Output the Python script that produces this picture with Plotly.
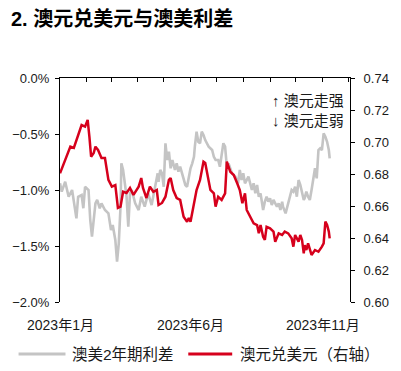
import pandas as pd
import plotly.graph_objects as go

# ---- data ----
title_text = "2. 澳元兑美元与澳美利差"
spread_name = "澳美2年期利差"
aud_name = "澳元兑美元（右轴）"
note_up = "↑ 澳元走强"
note_down = "↓ 澳元走弱"

x_tick_dates = ["2023-01-01", "2023-06-01", "2023-11-01"]
x_tick_labels = ["2023年1月", "2023年6月", "2023年11月"]

# days since 2023-01-01
spread_days = [0, 2, 6, 10, 14, 18, 19, 21, 25, 27, 29, 33, 35, 37, 39, 41, 43, 46, 48, 52,
               56, 59, 61, 64, 66, 68, 70, 71, 73, 75, 77, 79, 81, 83, 87, 91, 94, 98, 102, 106,
               110, 113, 114, 116, 118, 120, 122, 124, 126, 128, 130, 131, 133, 135, 137, 139, 141, 145, 147, 149,
               151, 153, 155, 156, 158, 160, 162, 164, 166, 168, 172, 176, 178, 180, 183, 185, 187, 189, 191, 193,
               195, 197, 199, 203, 206, 208, 210, 212, 214, 218, 222, 224, 226, 228, 230, 232, 233, 235, 237, 239,
               241, 243, 245, 247, 249, 251, 253, 255, 257, 258, 261, 264, 266, 268, 270, 272, 274, 276, 278, 280,
               282, 283, 285, 287, 289, 291, 293, 295, 297, 299, 301, 303, 305, 307, 309, 311, 312]
spread_values = [-0.94, -1.015, -0.926, -1.06, -1.0, -1.238, -1.253, -1.06, -1.045, -1.163, -0.971, -1.0, -1.268, -1.417, -1.268, -1.119, -1.089, -1.163, -1.119, -1.179,
                 -1.208, -1.357, -1.313, -1.446, -1.64, -1.476, -1.149, -0.762, -0.821, -0.971, -1.06, -1.328, -1.03, -1.0, -1.119, -1.179, -1.06, -1.149, -1.03, -1.134,
                 -0.971, -0.851, -0.926, -0.821, -0.851, -0.971, -0.583, -0.732, -0.658, -0.806, -0.732, -0.762, -0.821, -0.762, -0.836, -0.792, -0.851, -0.955, -0.971, -0.881,
                 -0.806, -0.762, -0.703, -0.613, -0.479, -0.569, -0.583, -0.479, -0.509, -0.554, -0.613, -0.643, -0.703, -0.732, -0.732, -0.792, -0.672, -0.583, -0.613, -0.792,
                 -0.762, -0.806, -0.851, -0.881, -0.94, -0.821, -0.911, -0.851, -0.94, -0.881, -1.0, -0.94, -1.03, -0.955, -1.06, -1.03, -1.089, -1.179, -1.104, -1.06,
                 -1.104, -1.074, -1.134, -1.089, -1.119, -1.149, -1.119, -1.179, -1.104, -1.149, -1.208, -1.119, -1.074, -1.0, -1.015, -0.971, -1.06, -0.911, -0.955, -1.015,
                 -1.089, -1.074, -1.015, -1.06, -1.089, -1.0, -0.911, -0.806, -0.896, -0.643, -0.628, -0.643, -0.494, -0.524, -0.569, -0.643, -0.717]

aud_days = [0, 6, 12, 16, 18, 21, 25, 29, 32, 34, 36, 39, 41, 44, 48, 52, 56, 60, 64, 67,
            70, 73, 77, 81, 85, 91, 94, 96, 100, 104, 108, 112, 114, 118, 122, 126, 128, 131, 135, 139,
            143, 147, 149, 151, 154, 158, 162, 166, 168, 171, 174, 178, 180, 183, 187, 191, 193, 197, 201, 205,
            208, 211, 214, 216, 220, 224, 228, 230, 232, 235, 237, 239, 243, 247, 249, 253, 257, 260, 264, 268,
            270, 272, 276, 278, 280, 282, 283, 285, 287, 291, 295, 299, 303, 305, 307, 309, 311, 312]
aud_values = [0.6804, 0.6888, 0.6971, 0.6963, 0.6994, 0.7031, 0.7106, 0.7096, 0.7138, 0.7033, 0.6908, 0.6931, 0.6971, 0.695, 0.690, 0.690, 0.6763, 0.6721, 0.6731, 0.6588,
              0.6596, 0.6689, 0.6681, 0.6713, 0.6669, 0.6721, 0.6775, 0.6713, 0.665, 0.6721, 0.6689, 0.670, 0.6606, 0.6619, 0.6658, 0.6763, 0.6775, 0.670, 0.665, 0.6638,
              0.6533, 0.6502, 0.6525, 0.6502, 0.6596, 0.670, 0.6763, 0.6877, 0.6869, 0.6783, 0.670, 0.6679, 0.6596, 0.6658, 0.6638, 0.6679, 0.6877, 0.6814, 0.6794, 0.6742,
              0.670, 0.6617, 0.6679, 0.6575, 0.6533, 0.6492, 0.6481, 0.6429, 0.6481, 0.6408, 0.6388, 0.647, 0.646, 0.644, 0.6377, 0.6429, 0.6419, 0.644, 0.6429, 0.6398,
              0.6346, 0.6419, 0.6377, 0.6419, 0.6388, 0.6304, 0.6356, 0.6325, 0.6367, 0.6294, 0.6325, 0.6314, 0.6346, 0.6367, 0.6502, 0.6481, 0.644, 0.6398]

start = pd.Timestamp("2023-01-01")
spread_dates = start + pd.to_timedelta(spread_days, unit="D")
aud_dates = start + pd.to_timedelta(aud_days, unit="D")

# ---- styling ----
GREY = "#C4C4C4"
RED = "#D6001C"
FONT = "Liberation Sans, Arial, Noto Sans CJK SC"
TXT = "#1a1a1a"
x_range = ["2023-01-01", "2023-12-02 12:00"]

# page body has an 8px default margin -> figure is drawn 8px smaller, coords shifted by 8
OFF = 8
W, H = 401 - OFF, 371 - OFF
PL, PR, PT, PB = 59.5 - OFF, 350 - OFF, 78 - OFF, 302 - OFF  # plot area in figure px


def px_x(p):
    return (p - OFF - PL) / (PR - PL)


def px_y(p):
    return (PB - (p - OFF)) / (PB - PT)


fig = go.Figure()
fig.add_trace(go.Scatter(x=spread_dates, y=spread_values, name=spread_name, mode="lines",
                         line=dict(color=GREY, width=2.6), xaxis="x", yaxis="y"))
fig.add_trace(go.Scatter(x=aud_dates, y=aud_values, name=aud_name, mode="lines",
                         line=dict(color=RED, width=2.5), xaxis="x", yaxis="y2"))

fig.update_layout(
    width=W, height=H,
    margin=dict(l=PL, r=W - PR, t=PT, b=H - PB, autoexpand=False),
    paper_bgcolor="white", plot_bgcolor="white",
    showlegend=False,
    font=dict(family=FONT, size=13, color=TXT),
    title=dict(text=title_text, x=3 / W, xanchor="left", xref="container",
               y=1 - 4 / H, yanchor="top", yref="container",
               font=dict(family=FONT, size=20, color="#000", weight="bold")),
    xaxis=dict(type="date", range=x_range, side="top",
               dtick="M1", tick0="2023-01-01", ticks="inside", ticklen=4, tickcolor="#000",
               showticklabels=False, showgrid=False, zeroline=False,
               showline=True, linecolor="#000", linewidth=1, automargin=False),
    yaxis=dict(range=[-2.0, 0.0], dtick=0.5, tick0=0, tickformat=".1f", ticksuffix="%",
               ticks="outside", ticklen=4, tickcolor="#000", showline=True, linecolor="#000",
               linewidth=1, showgrid=False, zeroline=False, tickfont=dict(size=13),
               ticklabelstandoff=3, automargin=False),
    yaxis2=dict(range=[0.60, 0.74], dtick=0.02, tick0=0.60, tickformat=".2f",
                overlaying="y", side="right", anchor="x",
                ticks="outside", ticklen=4, tickcolor="#000", showline=True, linecolor="#000",
                linewidth=1, showgrid=False, zeroline=False, tickfont=dict(size=13),
                ticklabelstandoff=6, automargin=False),
)

# x tick labels at bottom
for d, lab in zip(x_tick_dates, x_tick_labels):
    fig.add_annotation(text=lab, xref="x", yref="paper", x=d, y=px_y(325),
                       xanchor="center", yanchor="middle", showarrow=False,
                       font=dict(family=FONT, size=14, color=TXT))

# annotation texts in plot
for txt, ypx in [(note_up, 100), (note_down, 120)]:
    fig.add_annotation(text=txt, xref="paper", yref="paper",
                       x=px_x(346), y=px_y(ypx),
                       xanchor="right", yanchor="middle", showarrow=False,
                       font=dict(family=FONT, size=15, color=TXT))

# manual legend
leg_y = 354
for name, color, x0, x1, tx in [(spread_name, GREY, 18, 65, 70), (aud_name, RED, 188, 232, 238)]:
    fig.add_shape(type="line", xref="paper", yref="paper",
                  x0=px_x(x0), x1=px_x(x1), y0=px_y(leg_y), y1=px_y(leg_y),
                  line=dict(color=color, width=3))
    fig.add_annotation(text=name, xref="paper", yref="paper",
                       x=px_x(tx), y=px_y(leg_y), xanchor="left", yanchor="middle",
                       showarrow=False, font=dict(family=FONT, size=15.5, color=TXT))

fig.write_html("out.html")
